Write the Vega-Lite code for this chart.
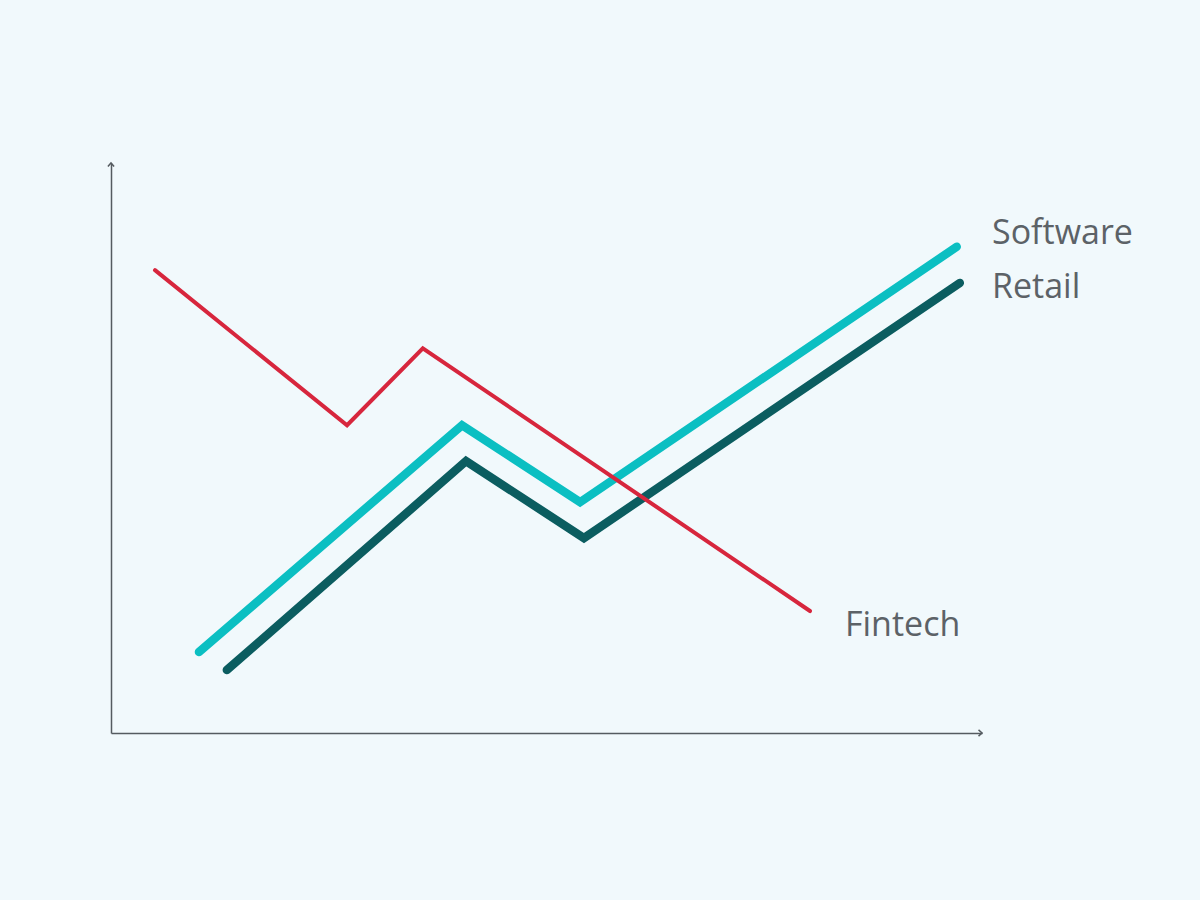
{
  "$schema": "https://vega.github.io/schema/vega-lite/v6.json",
  "width": 871, "height": 570,
  "autosize": {"type": "none"},
  "padding": {"left": 111, "top": 163, "right": 218, "bottom": 167},
  "background": "#f1f9fc",
  "config": {"view": {"stroke": null}, "font": "Open Sans"},
  "datasets": {
    "lines": [
      {"series": "Software", "t": 1.01, "v": 1.42},
      {"series": "Software", "t": 4.03, "v": 5.40},
      {"series": "Software", "t": 5.385, "v": 4.05},
      {"series": "Software", "t": 9.71, "v": 8.53},
      {"series": "Retail", "t": 1.33, "v": 1.105},
      {"series": "Retail", "t": 4.076, "v": 4.77},
      {"series": "Retail", "t": 5.43, "v": 3.42},
      {"series": "Retail", "t": 9.745, "v": 7.895},
      {"series": "Fintech", "t": 0.505, "v": 8.12},
      {"series": "Fintech", "t": 2.71, "v": 5.40},
      {"series": "Fintech", "t": 3.58, "v": 6.75},
      {"series": "Fintech", "t": 8.025, "v": 2.14}
    ],
    "labels": [
      {"label": "Software", "t": 10.115, "v": 8.76},
      {"label": "Retail", "t": 10.115, "v": 7.81},
      {"label": "Fintech", "t": 8.427, "v": 1.88}
    ],
    "arrows": [
      {"dir": "up", "t": 0, "v": 10},
      {"dir": "right", "t": 10, "v": 0}
    ]
  },
  "encoding": {
    "x": {"field": "t", "type": "quantitative", "scale": {"domain": [0, 10], "nice": false}, "axis": {"ticks": false, "labels": false, "grid": false, "title": null, "domainColor": "#555b60", "domainWidth": 1.5}},
    "y": {"field": "v", "type": "quantitative", "scale": {"domain": [0, 10], "nice": false}, "axis": {"ticks": false, "labels": false, "grid": false, "title": null, "domainColor": "#555b60", "domainWidth": 1.5}}
  },
  "layer": [
    {
      "data": {"name": "lines"},
      "transform": [{"filter": "datum.series !== 'Fintech'"}],
      "mark": {"type": "line", "strokeWidth": 8.5, "strokeCap": "round", "strokeJoin": "miter"},
      "encoding": {
        "color": {"field": "series", "type": "nominal", "scale": {"domain": ["Software", "Retail"], "range": ["#0bbfc2", "#0b5d60"]}, "legend": null}
      }
    },
    {
      "data": {"name": "lines"},
      "transform": [{"filter": "datum.series === 'Fintech'"}],
      "mark": {"type": "line", "strokeWidth": 4, "strokeCap": "round", "color": "#d7263d"},
      "encoding": {}
    },
    {
      "data": {"name": "labels"},
      "mark": {"type": "text", "align": "left", "baseline": "middle", "fontSize": 34, "color": "#5c6267"},
      "encoding": {"text": {"field": "label"}}
    },
    {
      "data": {"name": "arrows"},
      "transform": [{"filter": "datum.dir === 'up'"}],
      "mark": {"type": "point", "shape": "M-0.8,0.9L0,0L0.8,0.9", "size": 60, "filled": false, "stroke": "#555b60", "strokeWidth": 1.5, "opacity": 1}
    },
    {
      "data": {"name": "arrows"},
      "transform": [{"filter": "datum.dir === 'right'"}],
      "mark": {"type": "point", "shape": "M-0.9,-0.8L0,0L-0.9,0.8", "size": 60, "filled": false, "stroke": "#555b60", "strokeWidth": 1.5, "opacity": 1}
    }
  ]
}
